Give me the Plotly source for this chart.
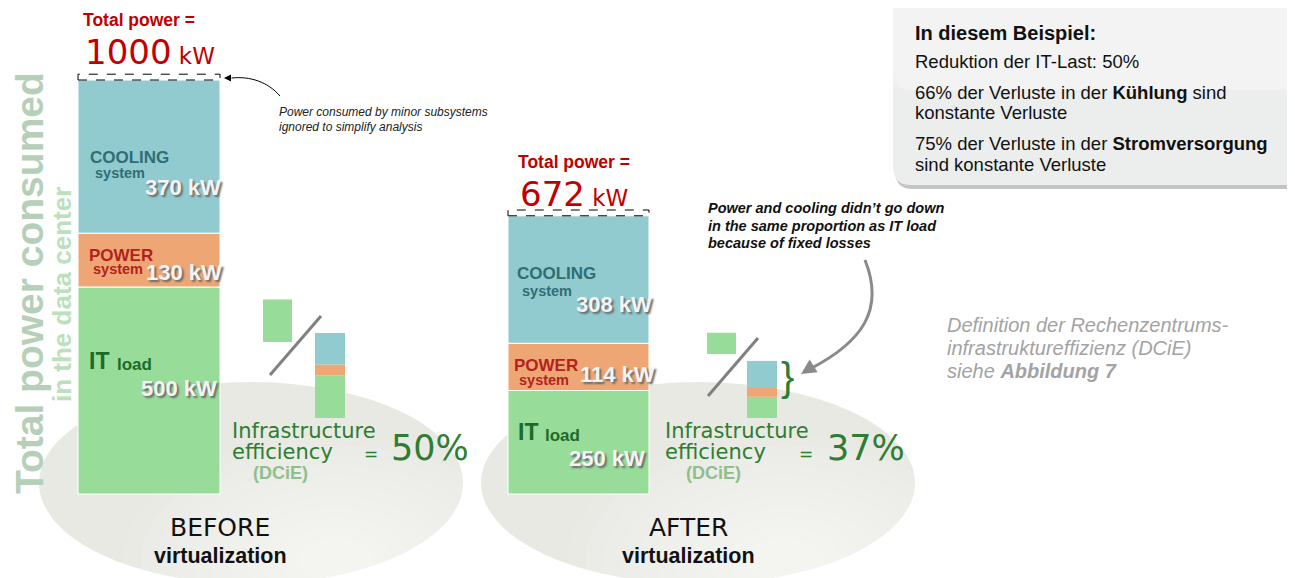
import numpy as np
import plotly.graph_objects as go

# ------------------------------------------------------------
# data (kW)
# ------------------------------------------------------------
stages = ["BEFORE", "AFTER"]
it_load = [500, 250]
power_sys = [130, 114]
cooling_sys = [370, 308]

it_load = np.array(it_load)
power_sys = np.array(power_sys)
cooling_sys = np.array(cooling_sys)
totals = it_load + power_sys + cooling_sys
dcie = np.round(100 * it_load / totals).astype(int)

# ------------------------------------------------------------
# layout constants (pixel canvas 1295 x 578, page body has an 8px margin)
# ------------------------------------------------------------
W, H = 1295, 578
OFF = 8
ARIAL = "Liberation Sans"
GOTHIC = "DejaVu Sans"

C_TEAL = "#91CBCF"
C_ORANGE = "#EEA774"
C_GREEN = "#98DC9A"
C_RED = "#C00000"
C_EFF = "#2E7D32"

BAR_X = [149, 578.5]
BAR_W = [142, 141]
MINI_DEN_X = [330, 762]
MINI_NUM_X = [277.5, 721.5]
MINI_NUM_BASE = [894, 753]   # lift of the small numerator blocks

# main kW axis: 0 kW at pixel 494, 0.414 px per kW
KW_PX = 0.414
kw_range = [-(H - 494) / KW_PX, (494 - OFF) / KW_PX]
# mini kW axis: 0 kW at pixel 418, 0.085 px per kW
MINI_PX = 0.085
mini_range = [-(H - 418) / MINI_PX, (418 - OFF) / MINI_PX]

fig = go.Figure()

# --- big stacked bars
segs = [("IT", it_load, C_GREEN), ("POWER", power_sys, C_ORANGE), ("COOLING", cooling_sys, C_TEAL)]
base = np.zeros(2)
for name, vals, col in segs:
    fig.add_trace(go.Bar(x=BAR_X, y=vals, base=base.copy(), width=BAR_W, yaxis="y2",
                         marker=dict(color=col, line=dict(color="white", width=1)),
                         showlegend=False, hoverinfo="skip"))
    base += vals

# --- small ratio bars (IT load / total)
base = np.zeros(2)
for name, vals, col in segs:
    fig.add_trace(go.Bar(x=MINI_DEN_X, y=vals, base=base.copy(), width=30, yaxis="y3",
                         marker=dict(color=col, line=dict(width=0)),
                         showlegend=False, hoverinfo="skip"))
    base += vals
fig.add_trace(go.Bar(x=MINI_NUM_X, y=it_load, base=MINI_NUM_BASE, width=29, yaxis="y3",
                     marker=dict(color=C_GREEN, line=dict(width=0)),
                     showlegend=False, hoverinfo="skip"))

shapes = []
# background ellipses, lightened towards the lower right to fake the gradient
for cx, rx in [(251, 212), (698, 217)]:
    shapes.append(dict(type="circle", xref="x", yref="y", x0=cx - rx, x1=cx + rx, y0=382, y1=584,
                       fillcolor="#E9E9E3", line=dict(width=0), layer="below"))
    for k in np.linspace(1.0, 0.1, 12):
        ecx, ecy = cx + 0.4 * rx, 560
        shapes.append(dict(type="circle", xref="x", yref="y",
                           x0=ecx - k * rx, x1=ecx + k * rx, y0=ecy - k * 125, y1=ecy + k * 125,
                           fillcolor="rgba(255,255,255,0.08)", line=dict(width=0), layer="below"))

# dashed "minor subsystems" boxes on top of each bar
for xc, w, t in zip(BAR_X, BAR_W, totals):
    shapes.append(dict(type="rect", xref="x", yref="y2", x0=xc - w / 2, x1=xc + w / 2,
                       y0=t, y1=t + 14, line=dict(color="black", width=1, dash="dash")))

# slashes
shapes.append(dict(type="line", xref="x", yref="y", x0=270, y0=375, x1=321, y1=316,
                   line=dict(color="#808080", width=3)))
shapes.append(dict(type="line", xref="x", yref="y", x0=708, y0=396, x1=758, y1=338,
                   line=dict(color="#808080", width=3)))

# curved arrows
shapes.append(dict(type="path", xref="x", yref="y", path="M 280,96 C 268,82 250,76 232,78",
                   line=dict(color="black", width=1)))
shapes.append(dict(type="path", xref="x", yref="y", path="M 865,260 C 885,310 862,342 810,369",
                   line=dict(color="#8A8A8A", width=3)))


def rrect(x0, y0, x1, y1, r):
    return (f"M {x0 + r},{y0} L {x1 - r},{y0} Q {x1},{y0} {x1},{y0 + r} L {x1},{y1 - r} "
            f"Q {x1},{y1} {x1 - r},{y1} L {x0 + r},{y1} Q {x0},{y1} {x0},{y1 - r} "
            f"L {x0},{y0 + r} Q {x0},{y0} {x0 + r},{y0} Z")


# info box with shadow
shapes.append(dict(type="path", xref="x", yref="y", path=rrect(895, -20, 1320, 189, 18),
                   fillcolor="#C4C4C4", line=dict(width=0)))
shapes.append(dict(type="path", xref="x", yref="y", path=rrect(893, -20, 1320, 185, 18),
                   fillcolor="#ECEEED", line=dict(width=0)))
shapes.append(dict(type="path", xref="x", yref="y", path=rrect(893, -20, 1320, 90, 18),
                   fillcolor="rgba(255,255,255,0.3)", line=dict(width=0)))

ann = []


def txt(x, y, text, size, color, family=ARIAL, anchor="left", angle=0, **font):
    ann.append(dict(x=x, y=y, xref="x", yref="y", text=text, showarrow=False,
                    xanchor=anchor, yanchor="middle", textangle=angle,
                    font=dict(family=family, size=size, color=color, **font)))


# arrowheads
ann.append(dict(x=224, y=78, ax=233, ay=78, xref="x", yref="y", axref="x", ayref="y",
                text="", showarrow=True, arrowhead=2, arrowsize=1.4, arrowwidth=1, arrowcolor="black"))
ann.append(dict(x=801, y=374, ax=812, ay=367, xref="x", yref="y", axref="x", ayref="y",
                text="", showarrow=True, arrowhead=2, arrowsize=1, arrowwidth=3, arrowcolor="#8A8A8A"))

# vertical axis-like titles
txt(29, 283, "Total power consumed", 39, "#B5CFB8", angle=-90, anchor="center", weight="bold")
txt(62, 295, "in the data center", 26, "#BBE0BC", angle=-90, anchor="center", weight="bold")

# totals
for x, y, t in [(81, 20, totals[0]), (516, 162, totals[1])]:
    txt(x, y, "Total power =", 17.5, C_RED, weight="bold")
    txt(x + 2, y + 32, f"{t}<span style='font-size:23px'> kW</span>", 34, C_RED, family=GOTHIC)

# segment labels
shadow = "2px 2px 2px #6A6A6A"
lab_pos = [
    # cooling, power, it  : (name x, name y, sub x, sub y, value right x, value y)
    [(88, 157, 93, 173, 223, 187), (87, 255, 91, 269, 224, 272), (87, 361, 115, 364, 219, 388)],
    [(515, 273, 520, 291, 654, 304), (512, 365, 517, 380, 657, 374), (516, 432, 543, 435, 647, 458)],
]
for i in range(2):
    (cx, cy, sx, sy, vx, vy), (px, py, qx, qy, wx, wy), (ix, iy, lx, ly, ux, uy) = lab_pos[i]
    txt(cx, cy, "COOLING", 17, "#2F6E74", weight="bold")
    txt(sx, sy, "system", 14.5, "#2F6E74", weight="bold")
    txt(vx, vy, f"{cooling_sys[i]} kW", 22, "#F4F4F4", anchor="right", weight="bold", shadow=shadow)
    txt(px, py, "POWER", 17, "#B3221C", weight="bold")
    txt(qx, qy, "system", 14.5, "#B3221C", weight="bold")
    txt(wx, wy, f"{power_sys[i]} kW", 22, "#F4F4F4", anchor="right", weight="bold", shadow=shadow)
    txt(ix, iy, "IT", 23, "#1B6B2B", weight="bold")
    txt(lx, ly, "load", 17, "#1B6B2B", weight="bold")
    txt(ux, uy, f"{it_load[i]} kW", 22, "#F4F4F4", anchor="right", weight="bold", shadow=shadow)

# efficiency
for i, (x0, xe, xp) in enumerate([(230, 362, 389), (663, 797, 825)]):
    txt(x0, 431, "Infrastructure", 21, C_EFF, family=GOTHIC)
    txt(x0, 452, "efficiency", 21, C_EFF, family=GOTHIC)
    txt(x0 + 21, 473, "(DCiE)", 18, "#8DC08B", weight="bold")
    txt(xe, 454, "=", 17, C_EFF, family=GOTHIC)
    txt(xp, 448, f"{dcie[i]}%", 35, C_EFF, family=GOTHIC)

# before / after captions
for xc, s in zip([220, 688], stages):
    txt(xc, 527, s, 25, "#111111", family=GOTHIC, anchor="center")
    txt(xc, 556, "virtualization", 21.5, "#111111", anchor="center", weight="bold")

# notes
txt(277, 112, "<i>Power consumed by minor subsystems</i>", 12, "#222222")
txt(277, 127, "<i>ignored to simplify analysis</i>", 12, "#222222")
for y, s in [(208, "Power and cooling didn\u2019t go down"), (226, "in the same proportion as IT load"),
             (243, "because of fixed losses")]:
    txt(706, y, f"<b><i>{s}</i></b>", 14.5, "#111111")

# brace
txt(787, 377, "}", 40, C_EFF, anchor="center")

# info box text
txt(913, 33, "<b>In diesem Beispiel:</b>", 20, "#111111")
txt(913, 61, "Reduktion der IT-Last: 50%", 18.5, "#111111")
txt(913, 92, "66% der Verluste in der <b>Kühlung</b> sind", 18.5, "#111111")
txt(913, 112, "konstante Verluste", 18.5, "#111111")
txt(913, 143, "75% der Verluste in der <b>Stromversorgung</b>", 18.5, "#111111")
txt(913, 164, "sind konstante Verluste", 18.5, "#111111")

# DCiE reference
for y, s in [(325, "<i>Definition der Rechenzentrums-</i>"), (348, "<i>infrastruktureffizienz (DCiE)</i>"),
             (371, "<i>siehe <b>Abbildung 7</b></i>")]:
    txt(945, y, s, 20, "#A3A3A3")

hidden = dict(visible=False, showgrid=False, zeroline=False, fixedrange=True)
fig.update_layout(
    width=W - OFF, height=H - OFF, margin=dict(l=0, r=0, t=0, b=0),
    paper_bgcolor="white", plot_bgcolor="rgba(0,0,0,0)",
    barmode="overlay", showlegend=False,
    xaxis=dict(range=[OFF, W], **hidden),
    yaxis=dict(range=[H, OFF], **hidden),
    yaxis2=dict(range=kw_range, overlaying="y", **hidden),
    yaxis3=dict(range=mini_range, overlaying="y", **hidden),
    shapes=shapes, annotations=ann,
)

fig.write_html("out.html")
